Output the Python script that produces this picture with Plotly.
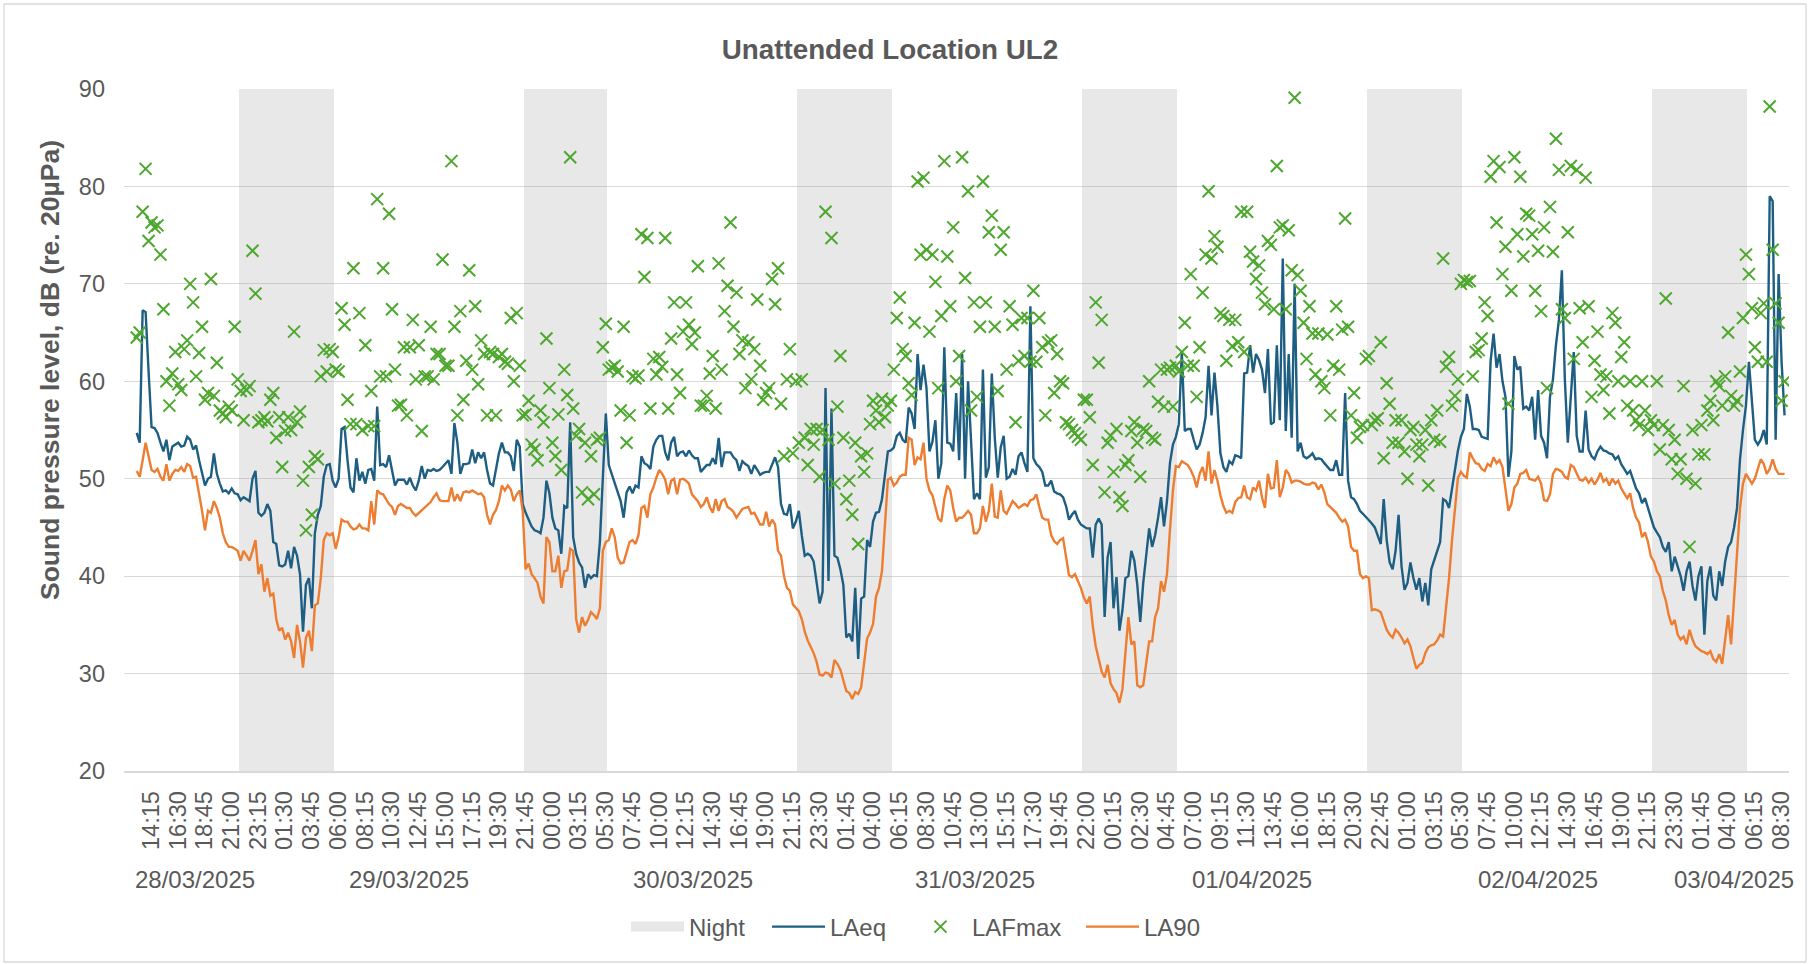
import pandas as pd
import plotly.graph_objects as go

START = "2025-03-28 14:15"

LAEQ = [
    54.7, 53.7, 67.3, 67.1, 61.0, 55.3, 55.2, 54.7, 53.7, 52.8,
    54.0, 51.9, 53.3, 53.5, 53.7, 53.3, 53.4, 54.3, 54.0, 53.0,
    53.4, 51.9, 50.5, 49.3, 50.0, 50.2, 52.6, 50.5, 49.5, 48.7,
    48.8, 48.5, 49.0, 48.5, 48.4, 47.8, 48.1, 47.9, 47.7, 50.0,
    50.8, 46.5, 46.2, 46.5, 47.4, 46.7, 43.5, 43.3, 41.1, 41.0,
    41.2, 42.6, 40.8, 43.0, 42.1, 40.2, 34.3, 39.1, 39.8, 36.7,
    44.4, 46.3, 47.2, 50.2, 51.4, 51.5, 49.8, 49.1, 50.0, 55.1,
    55.3, 51.9, 49.1, 48.6, 52.1, 49.8, 50.7, 49.5, 50.9, 51.0,
    49.8, 57.4, 51.4, 51.5, 51.2, 52.4, 50.9, 49.3, 49.9, 49.9,
    49.9, 49.4, 50.1, 49.3, 48.8, 49.8, 51.3, 50.0, 50.9, 50.8,
    51.0, 50.8, 50.9, 51.2, 51.5, 51.9, 50.5, 55.7, 53.7, 50.5,
    51.5, 51.5, 51.6, 53.0, 51.6, 52.7, 52.1, 52.7, 50.9, 49.5,
    49.3, 51.0, 52.6, 53.7, 52.7, 52.7, 52.3, 50.8, 54.0, 53.3,
    47.4, 46.5, 45.8, 45.1, 44.7, 44.6, 44.4, 46.0, 49.8, 48.5,
    46.0, 44.9, 44.7, 42.3, 47.2, 47.0, 55.8, 44.0, 42.3, 41.4,
    40.9, 38.8, 40.2, 39.8, 40.1, 40.0, 43.5, 50.0, 56.7, 51.4,
    50.5, 49.5, 48.8, 47.7, 46.0, 48.6, 49.2, 48.5, 49.3, 49.1,
    52.3, 51.6, 51.4, 51.0, 53.3, 54.0, 54.4, 54.4, 52.7, 51.9,
    53.7, 54.3, 52.3, 52.7, 52.8, 52.3, 52.9, 52.4, 52.1, 52.1,
    50.7, 51.0, 51.4, 51.4, 52.1, 51.5, 54.2, 51.2, 52.7, 52.7,
    52.7, 52.2, 51.9, 50.8, 51.8, 51.5, 51.3, 50.5, 51.4, 50.9,
    50.4, 50.6, 50.7, 50.7, 51.5, 52.2, 51.2, 47.4, 46.4, 46.3,
    47.4, 44.9, 45.6, 46.7, 44.2, 42.1, 42.3, 42.1, 41.5, 39.3,
    37.2, 38.4, 59.3, 39.5, 57.2, 42.1, 41.9, 40.7, 39.1, 33.7,
    34.1, 33.3, 38.8, 31.5, 37.7, 37.9, 43.7, 43.0, 45.6, 46.5,
    46.6, 47.9, 50.5, 52.8, 52.9, 53.2, 54.4, 54.7, 54.0, 53.7,
    57.3, 56.7, 55.1, 62.8, 59.1, 61.7, 59.3, 52.8, 53.8, 56.0,
    50.0, 51.6, 63.5, 53.7, 53.6, 52.8, 58.8, 51.9, 62.8, 50.0,
    60.0, 53.7, 47.9, 48.5, 47.9, 61.2, 50.1, 51.2, 60.8, 54.2,
    50.1, 53.2, 54.4, 50.0, 50.2, 51.0, 50.4, 52.3, 52.7, 51.6,
    50.7, 67.7, 52.1, 51.5, 51.2, 50.7, 49.3, 49.3, 49.8, 48.7,
    48.5, 48.4, 48.1, 47.2, 45.8, 46.3, 46.7, 45.8, 45.3, 45.1,
    44.9, 44.9, 41.9, 45.3, 45.9, 45.3, 35.8, 41.9, 43.5, 36.7,
    39.9, 34.4, 36.5, 39.8, 40.0, 42.6, 41.6, 39.1, 35.3, 39.3,
    42.3, 44.9, 43.0, 44.2, 46.0, 48.1, 45.1, 47.7, 51.6, 53.5,
    54.3, 55.6, 63.0, 54.9, 55.1, 55.1, 54.0, 53.0, 53.5, 54.7,
    56.3, 61.6, 56.5, 60.9, 57.4, 52.6, 51.2, 50.7, 51.8, 51.5,
    52.4, 52.3, 52.1, 60.8, 60.9, 63.7, 60.9, 62.8, 62.2, 61.2,
    58.8, 63.3, 55.6, 55.8, 63.7, 56.0, 72.6, 54.9, 62.8, 54.2,
    70.0, 52.8, 53.7, 52.3, 52.1, 52.3, 52.6, 52.0, 52.1, 52.0,
    51.6, 51.2, 50.9, 50.9, 51.9, 50.4, 50.4, 58.8, 49.8, 48.1,
    47.9, 47.4, 46.7, 46.4, 46.1, 45.8, 45.4, 45.0, 44.2, 43.3,
    47.9, 43.7, 41.4, 40.7, 42.6, 46.3, 41.0, 38.6, 39.3, 41.4,
    39.8, 38.6, 39.8, 37.4, 39.3, 37.0, 40.7, 41.6, 42.7, 43.5,
    47.9, 47.7, 47.0, 49.1, 51.2, 52.9, 54.3, 55.1, 58.7, 57.4,
    55.1, 55.1, 55.0, 54.3, 54.2, 54.1, 62.1, 64.9, 61.4, 62.8,
    60.0, 58.4, 50.2, 52.8, 62.6, 61.2, 61.5, 57.2, 57.4, 57.0,
    58.4, 54.0, 59.1, 54.4, 53.7, 52.1, 58.4, 60.2, 63.7, 66.3,
    71.4, 60.2, 53.7, 58.4, 63.0, 54.4, 52.8, 52.8, 57.0, 53.0,
    52.3, 52.0, 52.8, 53.3, 52.9, 52.8, 52.6, 52.5, 52.0, 52.3,
    51.5, 51.0, 50.5, 50.8, 50.0, 49.0, 48.5, 47.5, 48.0, 47.0,
    46.0, 45.0, 44.5, 44.0, 43.0, 42.5, 43.5, 40.5, 42.0, 41.0,
    40.0, 38.5, 40.5, 41.5, 39.0, 37.5, 40.0, 41.0, 34.0, 39.5,
    41.0, 38.0, 37.5, 40.5, 39.0, 41.5, 43.0, 43.5, 45.0, 47.0,
    52.0, 55.0, 57.5, 62.0, 58.0, 54.0, 53.5, 54.0, 55.0, 53.5,
    79.0, 78.5, 54.0, 71.0, 62.0, 56.5,
]

LA90 = [
    50.8, 50.2, 51.9, 53.7, 52.3, 50.9, 50.7, 51.0, 50.2, 49.8,
    51.5, 49.8, 50.5, 50.9, 50.8, 51.2, 50.7, 51.5, 51.3, 50.1,
    50.2, 48.6, 46.7, 44.7, 46.7, 46.5, 47.7, 47.0, 46.0, 44.4,
    43.5, 43.0, 43.0, 42.8, 42.6, 41.6, 42.6, 42.1, 41.6, 42.6,
    43.7, 40.2, 41.2, 38.4, 39.8, 38.0, 38.2, 35.6, 34.4, 34.7,
    33.5, 34.2, 33.3, 31.6, 35.0, 33.3, 30.6, 33.7, 34.4, 32.3,
    37.0, 37.2, 39.8, 43.7, 44.4, 44.2, 44.4, 42.8, 44.0, 45.8,
    45.6, 45.6, 45.1, 44.8, 44.9, 45.3, 44.9, 44.9, 44.7, 47.7,
    45.3, 48.8, 48.5, 48.4, 47.9, 47.4, 47.1, 46.3, 47.2, 47.4,
    47.2, 47.0, 47.0, 46.5, 46.2, 46.5, 46.7, 47.0, 47.4, 47.6,
    48.1, 48.5, 47.8, 47.7, 47.7, 47.7, 49.1, 47.7, 48.4, 47.7,
    48.6, 48.7, 48.6, 48.8, 48.6, 48.4, 48.5, 48.1, 46.3, 45.3,
    46.3, 46.8, 47.7, 49.3, 48.8, 49.3, 48.9, 47.7, 48.4, 48.8,
    46.7, 40.7, 41.3, 40.2, 39.8, 39.3, 37.9, 37.2, 44.0, 43.5,
    40.5, 40.5, 42.1, 38.8, 40.5, 40.6, 42.8, 42.6, 35.6, 34.2,
    35.8, 34.9, 35.5, 36.3, 36.0, 35.6, 36.7, 42.6, 43.5, 43.7,
    44.9, 44.0, 41.9, 41.3, 41.4, 42.6, 43.5, 43.7, 43.3, 44.2,
    47.0, 47.2, 46.0, 48.4, 49.1, 50.1, 50.9, 50.5, 49.9, 48.4,
    49.8, 50.0, 48.4, 49.9, 50.0, 49.8, 49.5, 48.4, 48.1, 47.7,
    47.1, 47.4, 48.1, 47.1, 46.5, 47.9, 46.7, 47.7, 47.9, 47.1,
    46.9, 46.6, 46.0, 46.4, 46.9, 47.0, 47.1, 46.4, 46.5, 45.9,
    45.3, 45.3, 46.6, 45.1, 45.8, 45.3, 42.6, 42.1, 40.0, 38.8,
    38.5, 37.1, 36.7, 36.4, 35.6, 34.3, 33.4, 32.8, 32.1, 31.2,
    29.9, 29.8, 30.1, 30.0, 29.6, 31.4, 31.0, 30.4, 29.3, 28.2,
    28.0, 27.4, 28.1, 27.9, 28.6, 31.2, 33.6, 34.2, 35.1, 37.9,
    38.8, 40.5, 45.6, 49.9, 50.1, 49.3, 49.6, 50.2, 50.4, 50.4,
    54.2, 54.0, 51.4, 52.2, 52.0, 53.7, 50.0, 48.8, 48.3, 47.2,
    45.9, 45.6, 47.9, 49.3, 48.8, 47.0, 45.6, 46.0, 46.0, 46.3,
    46.7, 46.3, 44.4, 44.4, 44.9, 47.2, 45.6, 46.7, 49.5, 46.1,
    46.0, 48.8, 46.7, 46.4, 47.1, 47.7, 47.4, 47.0, 47.2, 47.4,
    47.2, 47.8, 47.9, 48.4, 47.1, 46.0, 45.8, 45.8, 44.2, 43.6,
    43.3, 43.7, 43.9, 42.1, 40.1, 39.9, 40.2, 39.5, 38.8, 37.8,
    37.2, 37.9, 34.9, 32.8, 31.6, 30.2, 29.6, 30.9, 29.0, 28.4,
    28.0, 27.0, 28.4, 32.6, 35.8, 33.0, 33.3, 28.8, 28.6, 28.8,
    30.9, 33.3, 33.3, 35.8, 36.7, 39.5, 38.4, 40.2, 44.7, 48.8,
    51.3, 51.2, 51.8, 51.6, 51.4, 50.9, 50.2, 49.1, 50.5, 51.2,
    49.8, 52.8, 49.5, 50.9, 49.8, 48.3, 47.2, 46.5, 46.7, 46.5,
    47.6, 48.0, 48.1, 49.3, 48.1, 47.9, 49.1, 48.8, 49.8, 48.1,
    47.0, 50.5, 49.0, 49.1, 51.9, 48.1, 49.1, 50.9, 50.5, 49.6,
    49.8, 49.8, 49.7, 49.5, 49.4, 49.4, 49.6, 49.5, 48.9, 49.4,
    48.6, 47.4, 47.1, 46.7, 46.5, 46.0, 45.6, 45.8, 45.1, 43.0,
    42.6, 42.6, 40.2, 39.8, 40.0, 39.8, 36.5, 36.6, 36.5, 36.3,
    35.3, 34.5, 34.0, 33.7, 34.5, 34.2, 33.7, 33.1, 33.5, 32.8,
    31.6, 30.5, 30.9, 31.1, 32.1, 32.7, 32.9, 33.0, 33.4, 34.0,
    33.8, 36.5, 39.8, 43.7, 47.2, 50.1, 50.7, 50.3, 50.1, 52.7,
    52.1, 51.6, 51.5, 51.0, 50.8, 51.5, 51.3, 52.2, 51.6, 51.9,
    51.2, 49.1, 46.7, 47.4, 49.1, 49.5, 50.5, 50.6, 50.9, 50.0,
    49.9, 49.8, 50.2, 49.5, 47.8, 47.7, 48.4, 50.5, 51.0, 50.9,
    50.7, 50.2, 50.0, 51.4, 51.2, 50.5, 49.9, 49.8, 50.1, 49.6,
    50.0, 49.4, 49.9, 50.6, 49.7, 50.0, 49.3, 50.0, 49.5, 49.8,
    49.0, 48.5, 48.0, 48.5, 47.0, 46.0, 45.5, 44.0, 44.5, 43.5,
    42.0, 41.5, 40.5, 40.0, 38.5, 37.5, 36.0, 35.0, 35.5, 34.0,
    33.5, 33.8, 33.0, 34.5, 33.5, 32.8, 32.5, 32.3, 32.2, 32.0,
    32.3, 31.5, 31.2, 32.0, 31.0, 33.5, 36.0, 33.0, 38.0, 42.0,
    47.0, 49.5, 50.5, 50.0, 49.5, 50.0, 51.0, 52.0, 51.5, 50.5,
    51.0, 52.0, 51.0, 50.5, 50.5, 50.5,
]

LAFMAX = [
    64.5, 65.0, 77.4, 81.8, 74.4, 76.3, 75.8, 76.0, 73.0, 67.4,
    60.0, 57.5, 60.8, 63.0, 59.7, 59.1, 63.3, 64.2, 70.0, 68.1,
    60.5, 62.9, 65.6, 58.1, 58.8, 70.5, 58.5, 61.9, 57.0, 56.7,
    56.3, 57.4, 57.0, 65.6, 60.2, 59.0, 56.0, 59.1, 59.5, 73.4,
    69.0, 55.8, 56.0, 56.3, 55.9, 58.1, 58.8, 54.2, 56.3, 51.2,
    54.9, 56.3, 55.0, 65.1, 55.8, 56.9, 49.8, 44.7, 51.2, 46.3,
    52.3, 52.0, 60.5, 63.2, 61.0, 63.3, 63.0, 61.2, 61.0, 67.5,
    65.8, 58.1, 55.6, 71.6, 55.6, 67.0, 55.0, 63.7, 55.4, 59.0,
    55.4, 78.7, 60.5, 71.6, 60.5, 77.2, 67.4, 61.2, 57.5, 57.6,
    63.5, 56.5, 63.5, 66.3, 60.2, 63.7, 54.9, 60.5, 60.5, 65.6,
    60.2, 62.8, 62.8, 72.5, 61.6, 61.6, 82.6, 65.6, 56.5, 67.2,
    58.1, 62.1, 71.4, 61.2, 67.7, 59.7, 64.2, 62.8, 56.5, 63.0,
    62.8, 56.5, 62.5, 62.8, 62.0, 61.8, 66.5, 60.0, 67.0, 61.6,
    56.5, 56.6, 58.0, 53.5, 53.0, 51.9, 57.0, 55.8, 64.4, 59.3,
    53.7, 52.3, 56.6, 50.9, 61.2, 58.6, 83.0, 57.2, 54.4, 55.1,
    48.6, 53.7, 47.9, 52.3, 48.4, 54.0, 54.2, 63.5, 65.9, 61.2,
    61.4, 61.6, 61.0, 57.0, 65.6, 53.7, 56.5, 60.5, 60.3, 60.6,
    75.1, 70.7, 74.7, 57.2, 62.3, 60.7, 62.5, 61.5, 74.7, 57.2,
    64.4, 68.1, 60.7, 58.8, 65.1, 68.1, 65.8, 63.8, 65.0, 71.8,
    57.5, 57.5, 58.5, 60.8, 62.6, 57.2, 72.1, 61.2, 67.2, 69.8,
    76.3, 65.6, 69.1, 62.8, 64.2, 59.3, 64.0, 60.2, 63.3, 68.4,
    61.6, 58.1, 58.8, 59.3, 70.5, 67.9, 71.6, 57.7, 52.3, 60.2,
    63.3, 52.6, 60.0, 53.7, 60.2, 54.2, 51.4, 55.1, 53.5, 55.1,
    50.2, 55.0, 77.4, 54.0, 74.7, 49.5, 57.4, 62.6, 54.2, 47.9,
    49.8, 46.3, 53.7, 43.3, 52.3, 50.7, 52.6, 55.6, 58.0, 57.0,
    55.8, 58.2, 56.3, 57.5, 58.0, 61.2, 66.5, 68.6, 63.3, 62.6,
    59.8, 58.6, 66.0, 80.5, 73.0, 80.9, 73.5, 65.1, 73.0, 70.2,
    59.3, 66.7, 82.6, 72.8, 67.7, 75.8, 60.0, 62.6, 83.0, 70.6,
    79.5, 57.0, 68.1, 58.4, 65.6, 80.5, 68.1, 75.3, 77.0, 65.6,
    59.0, 73.5, 75.3, 61.2, 67.7, 65.8, 55.8, 62.1, 66.5, 62.6,
    66.5, 62.0, 69.3, 62.0, 66.5, 63.5, 56.5, 64.0, 64.2, 58.8,
    62.8, 60.0, 59.8, 55.8, 55.6, 55.0, 54.7, 54.3, 54.0, 58.1,
    58.1, 56.3, 51.4, 68.1, 61.9, 66.3, 48.6, 53.7, 54.4, 50.7,
    55.1, 48.1, 47.2, 51.4, 51.9, 54.9, 55.8, 53.7, 50.2, 55.1,
    54.9, 60.0, 54.2, 54.0, 57.9, 61.2, 57.4, 61.2, 61.4, 57.4,
    61.6, 61.0, 63.0, 66.0, 61.6, 71.0, 61.6, 58.4, 63.5, 69.1,
    73.0, 79.5, 72.6, 74.9, 73.8, 67.0, 66.7, 62.1, 66.3, 63.6,
    66.3, 64.0, 77.4, 63.0, 77.4, 73.3, 72.3, 70.5, 71.9, 69.1,
    67.9, 74.4, 74.0, 67.4, 82.1, 75.8, 76.0, 67.4, 75.5, 71.4,
    89.1, 70.9, 69.3, 66.0, 62.3, 67.7, 64.9, 60.7, 64.9, 60.0,
    59.3, 64.8, 56.5, 61.6, 67.7, 61.2, 65.3, 76.7, 65.6, 56.5,
    58.8, 54.2, 55.3, 55.5, 62.3, 62.6, 55.5, 56.0, 56.2, 64.0,
    52.1, 59.8, 57.7, 53.7, 56.0, 53.7, 56.0, 52.8, 50.0, 55.0,
    55.3, 53.5, 52.3, 53.5, 55.0, 49.3, 56.0, 54.0, 57.0, 53.8,
    72.6, 61.5, 62.5, 57.5, 58.5, 60.2, 70.0, 70.4, 70.2, 70.3,
    60.5, 63.0, 63.2, 64.4, 68.1, 66.7, 81.0, 82.6, 76.3, 82.0,
    71.0, 73.8, 57.7, 69.3, 83.0, 75.1, 81.0, 72.8, 77.2, 77.0,
    75.1, 69.3, 73.4, 67.2, 75.8, 59.3, 77.9, 73.3, 84.9, 81.7,
    67.4, 66.5, 75.3, 82.1, 62.3, 81.7, 67.5, 64.0, 80.9, 67.7,
    58.4, 62.1, 65.1, 60.7, 59.1, 60.5, 56.7, 67.0, 66.0, 60.0,
    62.5, 64.0, 57.5, 60.0, 57.0, 56.0, 55.5, 60.0, 57.0, 55.0,
    56.0, 55.5, 60.0, 53.0, 55.5, 68.5, 55.0, 52.0, 54.0, 50.5,
    52.0, 59.5, 50.0, 43.0, 55.0, 49.5, 52.5, 55.5, 52.5, 57.0,
    58.0, 56.0, 60.0, 59.5, 57.5, 60.5, 65.0, 58.5, 57.5, 58.0,
    61.0, 66.5, 73.0, 71.0, 67.5, 63.5, 62.0, 67.0, 68.0, 62.0,
    88.2, 73.5, 68.0, 66.0, 58.0, 60.0,
]

TICK_LABELS = [
    "14:15", "16:30", "18:45", "21:00", "23:15", "01:30", "03:45", "06:00",
    "08:15", "10:30", "12:45", "15:00", "17:15", "19:30", "21:45", "00:00",
    "03:15", "05:30", "07:45", "10:00", "12:15", "14:30", "16:45", "19:00",
    "21:15", "23:30", "01:45", "04:00", "06:15", "08:30", "10:45", "13:00",
    "15:15", "17:30", "19:45", "22:00", "00:15", "02:30", "04:45", "07:00",
    "09:15", "11:30", "13:45", "16:00", "18:15", "20:30", "22:45", "01:00",
    "03:15", "05:30", "07:45", "10:00", "12:15", "14:30", "16:45", "19:00",
    "21:15", "23:30", "01:45", "04:00", "06:15", "08:30",
]
TICK_STEP = 9

DATE_LABELS = ["28/03/2025", "29/03/2025", "30/03/2025", "31/03/2025",
               "01/04/2025", "02/04/2025", "03/04/2025"]
DATE_POS = [19.6, 91.6, 187.2, 282.5, 375.8, 471.9, 538.0]

N = len(LAEQ)
times = pd.date_range(START, periods=N, freq="15min", tz="Europe/London")
idx = list(range(N))
night = [90 if (t.hour >= 23 or t.hour < 7) else None for t in times]

GREY_TXT = "#595959"
FONT = "Liberation Sans, Arial, sans-serif"
NIGHT_CLR = "rgba(145,145,145,0.21)"

L, R, T, B = 124, 1789, 89, 771
W, H = 1810, 964
pw, ph = R - L, B - T


def px_x(p):
    return (p - L) / pw


def px_y(p):
    return (B - p) / ph


fig = go.Figure()
fig.add_trace(go.Bar(x=idx, y=night, width=1, name="Night", showlegend=False,
                     marker=dict(color=NIGHT_CLR, line=dict(width=0))))
# legend key for the night shading
fig.add_trace(go.Scatter(x=[None], y=[None], mode="lines", name="Night",
                         line=dict(color="#E7E7E7", width=14), legend="legend"))
fig.add_trace(go.Scatter(x=idx, y=LAEQ, mode="lines", name="LAeq", legend="legend2",
                         line=dict(color="#1D5E82", width=2.4)))
fig.add_trace(go.Scatter(x=idx, y=LAFMAX, mode="markers", name="LAFmax", legend="legend3",
                         marker=dict(symbol="x-thin", size=12, color="#4EA72E",
                                     line=dict(width=2, color="#4EA72E"))))
fig.add_trace(go.Scatter(x=idx, y=LA90, mode="lines", name="LA90", legend="legend4",
                         line=dict(color="#ED7D31", width=2.4)))

annotations = [
    dict(text="<b>Sound pressure level, dB (re. 20µPa)</b>", xref="paper", yref="paper",
         x=px_x(50), y=px_y(370), textangle=-90, showarrow=False,
         xanchor="center", yanchor="middle", font=dict(size=26.5, color=GREY_TXT, family=FONT)),
]
for lab, pos in zip(DATE_LABELS, DATE_POS):
    annotations.append(dict(text=lab, xref="x", yref="paper", x=pos, y=px_y(879),
                            showarrow=False, xanchor="center", yanchor="middle",
                            font=dict(size=24, color=GREY_TXT, family=FONT)))


def leg(xpix):
    return dict(orientation="h", xref="paper", yref="paper", x=px_x(xpix), y=px_y(927),
                xanchor="left", yanchor="middle", font=dict(size=24, color=GREY_TXT, family=FONT),
                itemwidth=53, bgcolor="rgba(0,0,0,0)", borderwidth=0)


fig.update_layout(
    width=W, height=H,
    margin=dict(l=L, r=W - R, t=T, b=H - B),
    paper_bgcolor="white", plot_bgcolor="white",
    bargap=0,
    font=dict(family=FONT, color=GREY_TXT, size=23.5),
    title=dict(text="<b>Unattended Location UL2</b>", xref="container", yref="container",
               x=890 / W, y=1 - 49.5 / H, xanchor="center", yanchor="middle",
               font=dict(size=27.8, color=GREY_TXT, family=FONT)),
    showlegend=True,
    legend=leg(626), legend2=leg(767), legend3=leg(909), legend4=leg(1081),
    xaxis=dict(range=[-4.28, 556.5], tickmode="array",
               tickvals=[TICK_STEP * k + 4.9 for k in range(len(TICK_LABELS))],
               ticktext=TICK_LABELS, tickangle=-90, showgrid=False, zeroline=False,
               showline=True, linecolor="#D9D9D9", linewidth=1.5, ticks="",
               tickfont=dict(size=23.5, color=GREY_TXT), ticklabelstandoff=9),
    yaxis=dict(range=[20, 90], tick0=20, dtick=10, showgrid=True, gridcolor="#D9D9D9",
               gridwidth=1.3, zeroline=False, showline=False, ticks="",
               tickfont=dict(size=23.5, color=GREY_TXT), ticklabelstandoff=18),
    annotations=annotations,
    shapes=[dict(type="rect", xref="paper", yref="paper",
                 x0=px_x(4), x1=px_x(1806), y0=px_y(962), y1=px_y(4),
                 line=dict(color="#D9D9D9", width=1.3), fillcolor="rgba(0,0,0,0)",
                 layer="below")],
)

fig.write_html("out.html", config={"displayModeBar": False},
               post_script="document.body.style.margin='0';")
